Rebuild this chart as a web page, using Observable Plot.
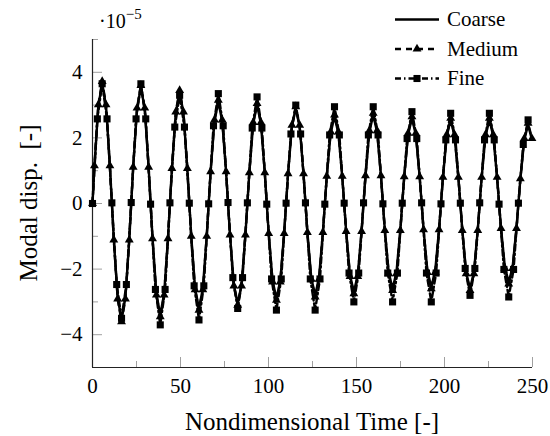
<!DOCTYPE html>
<html>
<head>
<meta charset="utf-8">
<script src="https://cdn.jsdelivr.net/npm/d3@7"></script>
<script src="https://cdn.jsdelivr.net/npm/@observablehq/plot@0.6"></script>
<style>
  html, body { margin: 0; padding: 0; background: white; }
  #chart { width: 550px; height: 436px; }
</style>
</head>
<body>
<div id="chart"></div>
<script>
// Sample times (nondimensional) for Coarse and Medium
const timeCM = [0,
  1.1, 3.3, 5.5, 7.7, 9.9, 12.1, 14.3, 16.5, 18.7, 20.9,
  23.1, 25.3, 27.5, 29.7, 31.9, 34.1, 36.3, 38.5, 40.7, 42.9,
  45.1, 47.3, 49.5, 51.7, 53.9, 56.1, 58.3, 60.5, 62.7, 64.9,
  67.1, 69.3, 71.5, 73.7, 75.9, 78.1, 80.3, 82.5, 84.7, 86.9,
  89.1, 91.3, 93.5, 95.7, 97.9, 100.1, 102.3, 104.5, 106.7, 108.9,
  111.1, 113.3, 115.5, 117.7, 119.9, 122.1, 124.3, 126.5, 128.7, 130.9,
  133.1, 135.3, 137.5, 139.7, 141.9, 144.1, 146.3, 148.5, 150.7, 152.9,
  155.1, 157.3, 159.5, 161.7, 163.9, 166.1, 168.3, 170.5, 172.7, 174.9,
  177.1, 179.3, 181.5, 183.7, 185.9, 188.1, 190.3, 192.5, 194.7, 196.9,
  199.1, 201.3, 203.5, 205.7, 207.9, 210.1, 212.3, 214.5, 216.7, 218.9,
  221.1, 223.3, 225.5, 227.7, 229.9, 232.1, 234.3, 236.5, 238.7, 240.9,
  243.1, 245.3, 247.5, 249.7];

// Modal displacement (x 1e-5)
const coarse = [0,
  1.13, 2.97, 3.67, 2.97, 1.13, -1.10, -2.87, -3.55, -2.87, -1.10,
  1.10, 2.87, 3.55, 2.87, 1.10, -1.05, -2.75, -3.40, -2.75, -1.05,
  1.05, 2.75, 3.40, 2.75, 1.05, -0.99, -2.59, -3.20, -2.59, -0.99,
  0.96, 2.51, 3.10, 2.51, 0.96, -0.94, -2.47, -3.05, -2.47, -0.94,
  0.93, 2.43, 3.00, 2.43, 0.93, -0.90, -2.35, -2.90, -2.35, -0.90,
  0.90, 2.35, 2.90, 2.35, 0.90, -0.87, -2.27, -2.80, -2.27, -0.87,
  0.82, 2.14, 2.65, 2.14, 0.82, -0.83, -2.18, -2.70, -2.18, -0.83,
  0.83, 2.18, 2.70, 2.18, 0.83, -0.80, -2.10, -2.60, -2.10, -0.80,
  0.80, 2.10, 2.60, 2.10, 0.80, -0.79, -2.06, -2.55, -2.06, -0.79,
  0.79, 2.06, 2.55, 2.06, 0.79, -0.80, -2.10, -2.60, -2.10, -0.80,
  0.79, 2.06, 2.55, 2.06, 0.79, -0.74, -1.94, -2.40, -1.94, -0.74,
  0.74, 1.94, 2.40, 1.94];

const medium = [0,
  1.15, 3.01, 3.72, 3.01, 1.15, -1.11, -2.91, -3.60, -2.91, -1.11,
  1.11, 2.91, 3.60, 2.91, 1.11, -1.07, -2.79, -3.45, -2.79, -1.07,
  1.07, 2.79, 3.45, 2.79, 1.07, -1.00, -2.63, -3.25, -2.63, -1.00,
  0.97, 2.55, 3.15, 2.55, 0.97, -0.96, -2.51, -3.10, -2.51, -0.96,
  0.94, 2.47, 3.05, 2.47, 0.94, -0.91, -2.39, -2.95, -2.39, -0.91,
  0.91, 2.39, 2.95, 2.39, 0.91, -0.88, -2.31, -2.85, -2.31, -0.88,
  0.83, 2.18, 2.70, 2.18, 0.83, -0.85, -2.22, -2.75, -2.22, -0.85,
  0.85, 2.22, 2.75, 2.22, 0.85, -0.82, -2.14, -2.65, -2.14, -0.82,
  0.82, 2.14, 2.65, 2.14, 0.82, -0.80, -2.10, -2.60, -2.10, -0.80,
  0.80, 2.10, 2.60, 2.10, 0.80, -0.82, -2.14, -2.65, -2.14, -0.82,
  0.80, 2.10, 2.60, 2.10, 0.80, -0.76, -1.98, -2.45, -1.98, -0.76,
  0.76, 1.98, 2.45, 1.98];

// Fine: its own sample times
const timeF = [0, 2.75, 5.5, 8.25, 11, 13.75, 16.5, 19.25,
  22, 24.75, 27.5, 30.25, 33, 35.75, 38.5, 41.25,
  44, 46.75, 49.5, 52.25, 55, 57.75, 60.5, 63.25,
  66, 68.75, 71.5, 74.25, 77, 79.75, 82.5, 85.25,
  88, 90.75, 93.5, 96.25, 99, 101.75, 104.5, 107.25,
  110, 112.75, 115.5, 118.25, 121, 123.75, 126.5, 129.25,
  132, 134.75, 137.5, 140.25, 143, 145.75, 148.5, 151.25,
  154, 156.75, 159.5, 162.25, 165, 167.75, 170.5, 173.25,
  176, 178.75, 181.5, 184.25, 187, 189.75, 192.5, 195.25,
  198, 200.75, 203.5, 206.25, 209, 211.75, 214.5, 217.25,
  220, 222.75, 225.5, 228.25, 231, 233.75, 236.5, 239.25,
  242, 244.75, 247.5];

const fine = [0, 2.58, 3.65, 2.58, 0.02, -2.47, -3.50, -2.47,
  0.03, 2.58, 3.65, 2.58, -0.02, -2.62, -3.70, -2.62,
  0.02, 2.33, 3.30, 2.33, 0.01, -2.51, -3.55, -2.51,
  -0.01, 2.37, 3.35, 2.37, 0.03, -2.26, -3.20, -2.26,
  0.02, 2.30, 3.25, 2.30, -0.02, -2.30, -3.25, -2.30,
  0.01, 2.12, 3.00, 2.12, 0.02, -2.30, -3.25, -2.30,
  -0.02, 2.09, 2.95, 2.09, 0.01, -2.12, -3.00, -2.12,
  0.02, 2.09, 2.95, 2.09, -0.01, -2.12, -3.00, -2.12,
  0.01, 1.98, 2.80, 1.98, 0.02, -2.12, -3.00, -2.12,
  -0.01, 1.94, 2.75, 1.94, 0.01, -1.98, -2.80, -1.98,
  0.02, 1.94, 2.75, 1.94, -0.02, -2.01, -2.85, -2.01,
  0.01, 1.80, 2.55];

const xMajorTicks = [0, 50, 100, 150, 200, 250];
const xMinorTicks = [25, 75, 125, 175, 225];
const yMajorTicks = [-4, -2, 0, 2, 4];
const yMinorTicks = [-5, -3, -1, 1, 3, 5];

const seriesNames = ["Coarse", "Medium", "Fine"];
const xLabel = "Nondimensional Time [-]";
const yLabel = "Modal disp.\u00a0 [-]";

const rows = (t, v) => t.map((x, i) => ({t: x, v: v[i]}));
const C = rows(timeCM, coarse);
const M = rows(timeCM, medium);
const F = rows(timeF, fine);

const serif = "'Liberation Serif', 'Times New Roman', Times, serif";
const tickGray = "#a0a0a0";
const lw = 2.4;

const chart = Plot.plot({
  width: 550,
  height: 436,
  marginLeft: 92,
  marginRight: 18,
  marginTop: 39,
  marginBottom: 69,
  x: {domain: [0, 250]},
  y: {domain: [-5, 5]},
  style: {fontFamily: serif, fontSize: "21px", color: "black", background: "white", overflow: "visible"},
  marks: [
    Plot.axisX({ticks: xMinorTicks, tickSize: -6, text: null, stroke: tickGray, label: null}),
    Plot.axisX({ticks: xMajorTicks, tickSize: -10, text: null, stroke: tickGray, label: null}),
    Plot.axisX({ticks: xMajorTicks, tickSize: 0, tickPadding: 11, label: null, fontSize: 21}),
    Plot.axisY({ticks: yMinorTicks, tickSize: -6, text: null, stroke: tickGray, label: null}),
    Plot.axisY({ticks: yMajorTicks, tickSize: -10, text: null, stroke: tickGray, label: null}),
    Plot.axisY({ticks: yMajorTicks, tickSize: 0, tickPadding: 10, label: null, fontSize: 21}),
    Plot.ruleX([0], {stroke: "#222", strokeWidth: 1.2}),
    Plot.ruleY([-5], {stroke: "#222", strokeWidth: 1.2}),
    Plot.line(C, {x: "t", y: "v", stroke: "black", strokeWidth: lw}),
    Plot.line(M, {x: "t", y: "v", stroke: "black", strokeWidth: lw, strokeDasharray: "6,5"}),
    Plot.dot(M, {x: "t", y: "v", symbol: "triangle", r: 3.3, fill: "black", stroke: "none"}),
    Plot.line(F, {x: "t", y: "v", stroke: "black", strokeWidth: lw, strokeDasharray: "6,3,1.5,3"}),
    Plot.dot(F, {x: "t", y: "v", symbol: "square", r: 4, fill: "black", stroke: "none"})
  ]
});

document.getElementById("chart").appendChild(chart);

const svg = d3.select(chart);
const g = svg.append("g").attr("font-family", serif).attr("fill", "black");

// axis titles
g.append("text").attr("x", 312).attr("y", 430).attr("text-anchor", "middle")
  .attr("font-size", 25).text(xLabel);
g.append("text").attr("transform", "translate(37,203) rotate(-90)").attr("text-anchor", "middle")
  .attr("font-size", 25).text(yLabel);

// exponent
const ex = g.append("text").attr("x", 99).attr("y", 28).attr("font-size", 20).attr("text-anchor", "start");
ex.append("tspan").text("\u00b710");
ex.append("tspan").attr("dy", -9).attr("font-size", 15).text("\u22125");

// legend
const leg = g.append("g");
const rowsY = [19.5, 49, 78.5];
const dashes = [null, "6,5", "6,3,1.5,3"];
seriesNames.forEach((name, i) => {
  const y = rowsY[i];
  const ln = leg.append("line").attr("x1", 395).attr("x2", 439).attr("y1", y).attr("y2", y)
    .attr("stroke", "black").attr("stroke-width", lw);
  if (dashes[i]) ln.attr("stroke-dasharray", dashes[i]);
  if (i === 1) leg.append("path").attr("d", d3.symbol(d3.symbolTriangle, Math.PI * 3.3 * 3.3)())
    .attr("transform", `translate(417,${y})`);
  if (i === 2) leg.append("path").attr("d", d3.symbol(d3.symbolSquare, Math.PI * 4 * 4)())
    .attr("transform", `translate(417,${y})`);
  leg.append("text").attr("x", 447).attr("y", y + 6.5).attr("font-size", 21)
    .attr("text-anchor", "start").text(name);
});
</script>
</body>
</html>
